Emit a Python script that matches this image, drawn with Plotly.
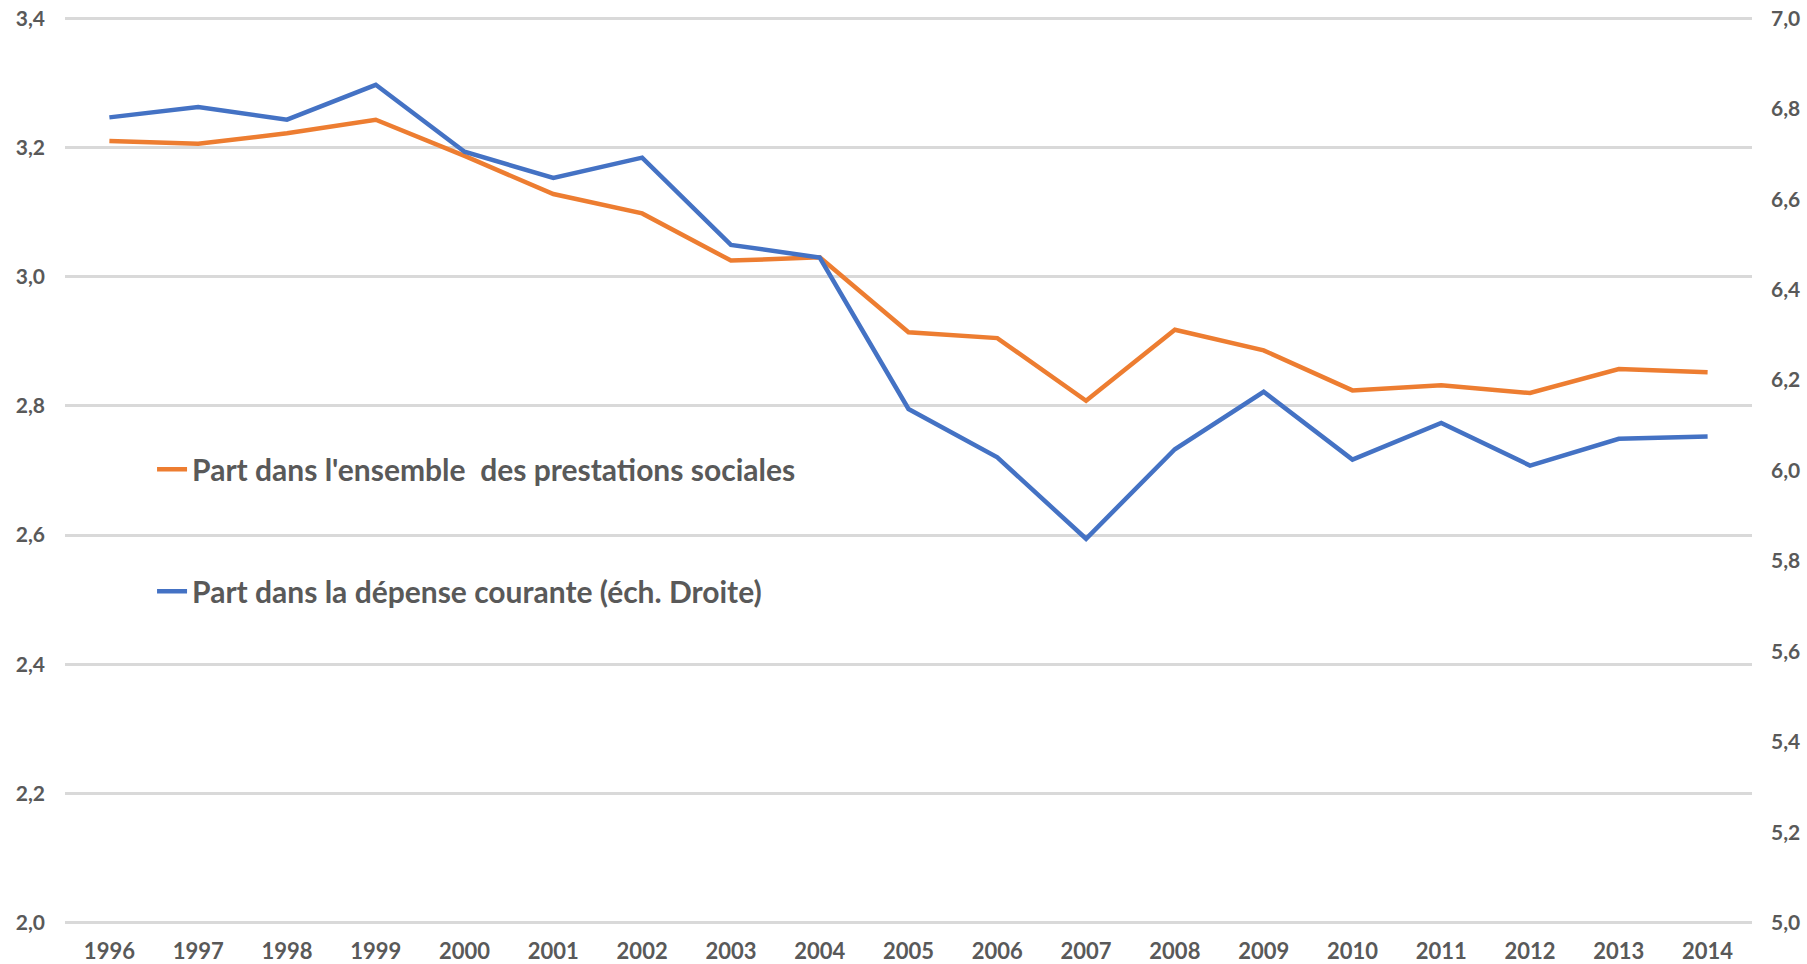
import plotly.graph_objects as go

years = [str(y) for y in range(1996, 2015)]
part_prestations = [3.210, 3.206, 3.222, 3.243, 3.187, 3.128, 3.098, 3.025, 3.030,
                    2.914, 2.905, 2.808, 2.918, 2.886, 2.824, 2.832, 2.820, 2.857, 2.852]
part_depense = [6.781, 6.804, 6.776, 6.853, 6.705, 6.647, 6.692, 6.499, 6.471,
                6.136, 6.029, 5.849, 6.047, 6.174, 6.024, 6.105, 6.011, 6.070, 6.075]

name_orange = "Part dans l'ensemble  des prestations sociales"
name_blue = "Part dans la dépense courante (éch. Droite)"

FONT = "Lato"
GREY = "#595959"
WEIGHT = 700

left_range = [2.0, 3.4]
right_range = [5.0, 7.0]
pad = 0.0015  # fraction, so the edge gridlines stay drawn


def padded(r):
    span = r[1] - r[0]
    return [r[0] - pad * span, r[1] + pad * span]


fig = go.Figure()
fig.add_trace(go.Scatter(x=years, y=part_prestations, mode="lines", name=name_orange,
                         line=dict(color="#ED7D31", width=4.5), legendgroup="a", yaxis="y"))
fig.add_trace(go.Scatter(x=years, y=part_depense, mode="lines", name=name_blue,
                         line=dict(color="#4472C4", width=4.5), legendgroup="b", yaxis="y2"))

tickfont = dict(family=FONT, size=21, color=GREY, weight=WEIGHT)

fig.update_layout(
    width=1807, height=964,
    margin=dict(l=65, r=55, t=17, b=40),
    paper_bgcolor="white", plot_bgcolor="white",
    separators=", ",
    font=dict(family=FONT, size=21, color=GREY, weight=WEIGHT),
    showlegend=True,
    legend=dict(x=0.0516, y=0.530, xanchor="left", yanchor="top",
                bgcolor="rgba(0,0,0,0)", tracegroupgap=80,
                font=dict(family=FONT, size=30, color=GREY, weight=WEIGHT)),
    xaxis=dict(type="category", range=[-0.5, len(years) - 0.5], showgrid=False,
               zeroline=False, showline=False, ticks="", ticklabelstandoff=12,
               automargin=False, tickfont=dict(family=FONT, size=22, color=GREY, weight=WEIGHT)),
    yaxis=dict(range=padded(left_range), dtick=0.2, tick0=2.0, tickformat=".1f",
               showgrid=True, gridcolor="#D9D9D9", gridwidth=2.5, zeroline=False,
               showline=False, ticks="", ticklabelstandoff=19, automargin=False,
               tickfont=tickfont),
    yaxis2=dict(range=padded(right_range), dtick=0.2, tick0=5.0, tickformat=".1f",
                overlaying="y", side="right", showgrid=False, zeroline=False,
                showline=False, ticks="", ticklabelstandoff=18, automargin=False,
                tickfont=tickfont),
)

fig.write_html("out.html", config={"displayModeBar": False},
               post_script="document.body.style.margin='0px';")
